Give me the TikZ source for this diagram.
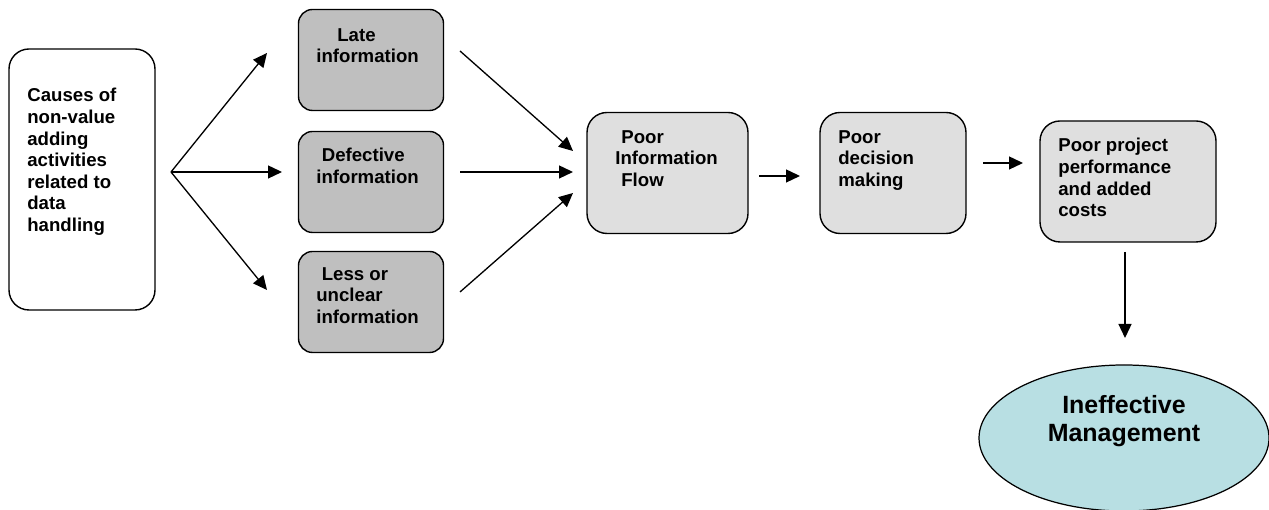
\documentclass[tikz,border=0pt]{standalone}
\usepackage{fontspec}
\setmainfont{Liberation Sans}
\usepackage{tikz}
\usetikzlibrary{arrows.meta,shapes.geometric}
\definecolor{lightCyan}{RGB}{184,223,227}
\tikzset{
  darkbox/.style={draw,line width=0.8pt,fill=gray!50,rounded corners=0.28cm,minimum width=2.9cm,minimum height=2.02cm,inner sep=0},
  lightbox/.style={draw,line width=0.8pt,fill=gray!25,rounded corners=0.4cm,minimum height=2.42cm,inner sep=0},
  boxtext/.style={anchor=north west,inner sep=0,align=left,font=\fontsize{10.6}{12.3}\selectfont\bfseries},
  arr/.style={line width=0.75pt,-{Triangle[length=0.28cm,width=0.26cm]}}
}

\begin{document}
\begin{tikzpicture}
	\useasboundingbox (0,0) rectangle (25.38,10.2);
	% boxes
	\node[draw,line width=0.8pt,fill=white,rounded corners=0.4cm,minimum width=2.92cm,minimum height=5.22cm,inner sep=0] (causes) at (1.64,6.61) {};
	\node[darkbox] (late) at (7.42,9.0) {};
	\node[darkbox] (defect) at (7.42,6.56) {};
	\node[darkbox] (unclear) at (7.42,4.16) {};
	\node[lightbox,minimum width=3.22cm] (flow) at (13.35,6.74) {};
	\node[lightbox,minimum width=2.92cm] (decision) at (17.86,6.74) {};
	\node[lightbox,minimum width=3.52cm] (perform) at (22.56,6.57) {};
	\node[draw,ellipse,line width=0.7pt,fill=lightCyan,minimum width=5.8cm,minimum height=2.92cm,inner sep=0] (manage) at (22.48,1.44) {};
	% texts
	\node[boxtext] (causesTxt) at (0.54,8.44) {Causes of\\non-value\\adding\\activities\\related to\\data\\handling};
	\node[boxtext] (lateTxt) at (6.32,9.64) {\hspace*{0.42cm}Late\\information};
	\node[boxtext] (defectTxt) at (6.32,7.24) {\hspace*{0.11cm}Defective\\information};
	\node[boxtext] (unclearTxt) at (6.32,4.86) {\hspace*{0.11cm}Less or\\unclear\\information};
	\node[boxtext] (flowTxt) at (12.3,7.6) {\hspace*{0.12cm}Poor\\Information\\\hspace*{0.12cm}Flow};
	\node[boxtext] (decisionTxt) at (16.76,7.6) {Poor\\decision\\making};
	\node[boxtext] (performTxt) at (21.16,7.44) {Poor project\\performance\\and added\\costs};
	\node[align=center,inner sep=0,font=\fontsize{14.2}{16}\selectfont\bfseries] (manageTxt) at (22.48,1.78) {Ineffective\\Management};
	% arrow ends
	\coordinate (fan) at (3.42,6.76);
	\coordinate (lateIn) at (5.34,9.14);
	\coordinate (defectIn) at (5.64,6.76);
	\coordinate (unclearIn) at (5.34,4.4);
	\coordinate (lateOut) at (9.2,9.18);
	\coordinate (defectOut) at (9.2,6.76);
	\coordinate (unclearOut) at (9.2,4.36);
	\coordinate (flowInA) at (11.46,7.18);
	\coordinate (flowInB) at (11.46,6.76);
	\coordinate (flowInC) at (11.46,6.34);
	\coordinate (flowOut) at (15.18,6.68);
	\coordinate (decisionIn) at (16.0,6.68);
	\coordinate (decisionOut) at (19.66,6.94);
	\coordinate (performIn) at (20.46,6.94);
	\coordinate (performOut) at (22.5,5.16);
	\coordinate (manageIn) at (22.5,3.44);
	% arrows
	\draw[arr] (fan) -- (lateIn);
	\draw[arr] (fan) -- (defectIn);
	\draw[arr] (fan) -- (unclearIn);
	\draw[arr] (lateOut) -- (flowInA);
	\draw[arr] (defectOut) -- (flowInB);
	\draw[arr] (unclearOut) -- (flowInC);
	\draw[arr] (flowOut) -- (decisionIn);
	\draw[arr] (decisionOut) -- (performIn);
	\draw[arr] (performOut) -- (manageIn);
\end{tikzpicture}
\end{document}
